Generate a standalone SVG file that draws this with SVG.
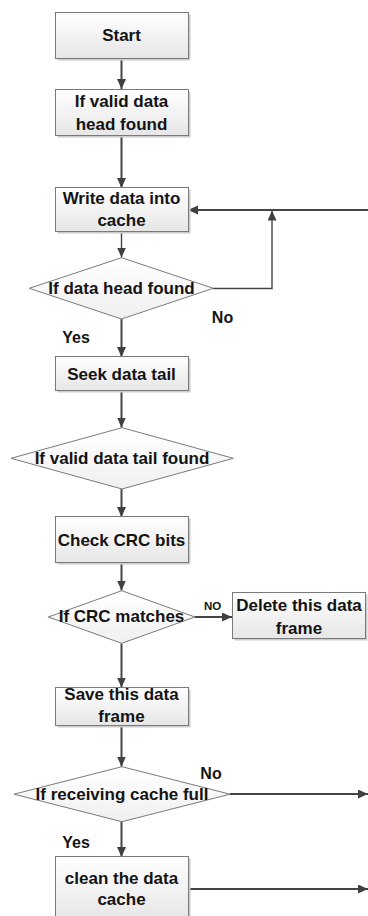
<svg xmlns="http://www.w3.org/2000/svg" width="368" height="916" viewBox="0 0 368 916">
  <defs>
    <linearGradient id="boxFill" x1="0" y1="0" x2="0" y2="1">
      <stop offset="0" stop-color="#ffffff"/>
      <stop offset="1" stop-color="#e6e6e6"/>
    </linearGradient>
    <linearGradient id="diaFill" x1="0" y1="0" x2="0" y2="1">
      <stop offset="0" stop-color="#ffffff"/>
      <stop offset="1" stop-color="#f0f0f0"/>
    </linearGradient>
    <marker id="arrow" markerUnits="userSpaceOnUse" markerWidth="11" markerHeight="10" refX="10" refY="4.5" orient="auto">
      <path d="M0,0 L10,4.5 L0,9 z" fill="#404040"/>
    </marker>
  </defs>
  <style>
    .shadow { fill: #cccccc; }
    .box { fill: url(#boxFill); stroke: #7a7a7a; stroke-width: 1; }
    .dia { fill: url(#diaFill); stroke: #7a7a7a; stroke-width: 1; }
    .t { font-family: "Liberation Sans", Arial, sans-serif; font-weight: bold; font-size: 17px; fill: #141414; text-anchor: middle; }
    .lbl { font-family: "Liberation Sans", Arial, sans-serif; font-weight: bold; font-size: 16px; fill: #141414; text-anchor: middle; }
    .small { font-family: "Liberation Sans", Arial, sans-serif; font-weight: bold; font-size: 11.5px; fill: #141414; text-anchor: middle; }
    .c { fill: none; stroke: #454545; stroke-width: 2; }
    .thin { fill: none; stroke: #454545; stroke-width: 1.4; }
    .arr { marker-end: url(#arrow); }
  </style>

  <!-- connectors -->
  <g id="connectors">
    <path class="c arr" d="M121.5,58 V89"/>
    <path class="c arr" d="M121.5,136 V188"/>
    <path class="thin arr" d="M121.5,232 V257.5"/>
    <path class="c arr" d="M121.5,319 V357"/>
    <path class="thin arr" d="M213,288.5 H272 V210.5"/>
    <path class="c arr" d="M368,210 H188"/>
    <path class="c arr" d="M121.5,391 V427.5"/>
    <path class="c arr" d="M121.5,489 V517"/>
    <path class="c arr" d="M121.5,563 V590.5"/>
    <path class="c arr" d="M195,617 H232"/>
    <path class="c arr" d="M121.5,643.5 V687.5"/>
    <path class="c arr" d="M121.5,725 V766.5"/>
    <path class="c arr" d="M230,794 H368"/>
    <path class="c arr" d="M121.5,822 V857"/>
    <path class="c arr" d="M188,889 H368"/>
    <text class="lbl" x="222.5" y="322.7">No</text>
    <text class="lbl" x="76" y="343.3">Yes</text>
    <text class="small" x="212.5" y="610">NO</text>
    <text class="lbl" x="211" y="779.3">No</text>
    <text class="lbl" x="76" y="847.5">Yes</text>
  </g>

  <g id="start">
    <rect class="shadow" x="57.5" y="14.5" width="133" height="46"/>
    <rect class="box" x="55.5" y="12.5" width="133" height="46"/>
    <text class="t" x="121.5" y="41">Start</text>
  </g>

  <g id="valid-head">
    <rect class="shadow" x="57.5" y="91.5" width="133" height="46"/>
    <rect class="box" x="55.5" y="89.5" width="133" height="46"/>
    <text class="t" x="121.5" y="107">If valid data</text>
    <text class="t" x="121.5" y="130">head found</text>
  </g>

  <g id="write-cache">
    <rect class="shadow" x="57.5" y="189.5" width="133" height="44"/>
    <rect class="box" x="55.5" y="187.5" width="133" height="44"/>
    <text class="t" x="121.5" y="203.5">Write data into</text>
    <text class="t" x="121.5" y="225.5">cache</text>
  </g>

  <g id="head-found">
    <polygon class="dia" points="121.5,257.7 213.3,288.3 121.5,319 29.3,288.3"/>
    <text class="t" x="121.5" y="293.5">If data head found</text>
  </g>

  <g id="seek-tail">
    <rect class="shadow" x="57.5" y="358.5" width="133" height="34"/>
    <rect class="box" x="55.5" y="356.5" width="133" height="34"/>
    <text class="t" x="121.5" y="379.5">Seek data tail</text>
  </g>

  <g id="tail-found">
    <polygon class="dia" points="122,427.7 233.3,458.3 122,489 11,458.3"/>
    <text class="t" x="122" y="463.5">If valid data tail found</text>
  </g>

  <g id="check-crc">
    <rect class="shadow" x="57.5" y="518.5" width="133" height="46"/>
    <rect class="box" x="55.5" y="516.5" width="133" height="46"/>
    <text class="t" x="121.5" y="545.5">Check CRC bits</text>
  </g>

  <g id="crc-match">
    <polygon class="dia" points="121.7,590.7 195,617 121.7,643.3 48.3,617"/>
    <text class="t" x="121.5" y="621.5">If CRC matches</text>
  </g>

  <g id="delete-frame">
    <rect class="shadow" x="234.5" y="594.5" width="133" height="46"/>
    <rect class="box" x="232.5" y="592.5" width="133" height="46"/>
    <text class="t" x="299" y="610.5">Delete this data</text>
    <text class="t" x="299" y="633.5">frame</text>
  </g>

  <g id="save-frame">
    <rect class="shadow" x="57.5" y="689.5" width="133" height="38"/>
    <rect class="box" x="55.5" y="687.5" width="133" height="38"/>
    <text class="t" x="121.5" y="699.5">Save this data</text>
    <text class="t" x="121.5" y="722">frame</text>
  </g>

  <g id="cache-full">
    <polygon class="dia" points="122,766.7 230,794.2 122,821.7 14,794.2"/>
    <text class="t" x="122" y="799.5">If receiving cache full</text>
  </g>

  <g id="clean-cache">
    <rect class="shadow" x="57.5" y="858.5" width="133" height="64"/>
    <rect class="box" x="55.5" y="856.5" width="133" height="64"/>
    <text class="t" x="121.5" y="883.5">clean the data</text>
    <text class="t" x="121.5" y="904.5">cache</text>
  </g>
</svg>
